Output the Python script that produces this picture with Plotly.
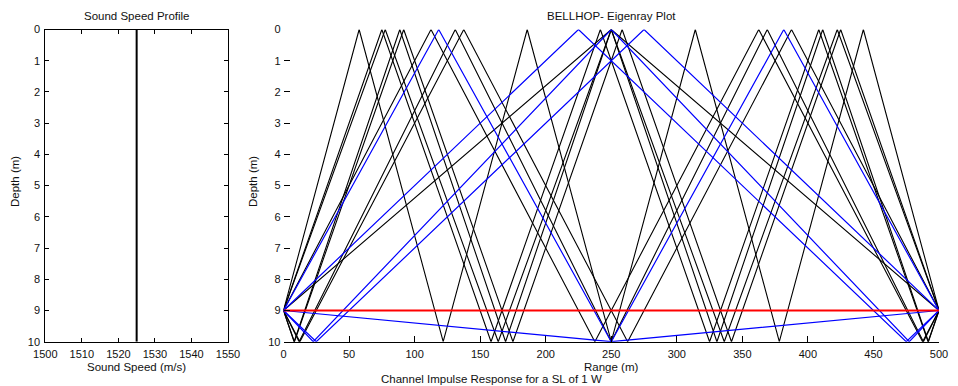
import plotly.graph_objects as go

W, H = 958, 386

# ---- Sound speed profile (isovelocity) ----
ssp_speed = [1525, 1525]
ssp_depth = [0, 10]

# ---- Eigenrays: vertex ranges (m) and depths (m) ----
# direct path
direct_r = [0, 500]
direct_z = [9, 9]

# blue rays
b1_r = [0, 250, 500]
b1_z = [9, 10, 9]
b2_r = [0, 25, 275, 500]
b2_z = [9, 10, 0, 9]
b3_r = [0, 225, 475, 500]
b3_z = [9, 0, 10, 9]
b4_r = [0, 22.7, 250, 477.3, 500]
b4_z = [9, 10, 0, 10, 9]
b5_r = [0, 118.4, 250, 381.6, 500]
b5_z = [9, 0, 10, 0, 9]

# black rays
k1_r = [0, 250, 500]
k1_z = [9, 0, 9]
k2_r = [0, 112.5, 237.5, 362.5, 487.5, 500]
k2_z = [9, 0, 10, 0, 10, 9]
k3_r = [0, 12.5, 137.5, 262.5, 387.5, 500]
k3_z = [9, 10, 0, 10, 0, 9]
k4_r = [0, 11.9, 131.0, 250, 369.0, 488.1, 500]
k4_z = [9, 10, 0, 10, 0, 10, 9]
k5_r = [0, 77.6, 163.8, 250, 336.2, 422.4, 500]
k5_z = [9, 0, 10, 0, 10, 0, 9]
k6_r = [0, 75, 158.3, 241.7, 325, 408.3, 491.7, 500]
k6_z = [9, 0, 10, 0, 10, 0, 10, 9]
k7_r = [0, 8.3, 91.7, 175, 258.3, 341.7, 425, 500]
k7_z = [9, 10, 0, 10, 0, 10, 0, 9]
k8_r = [0, 8.1, 88.7, 169.4, 250, 330.6, 411.3, 491.9, 500]
k8_z = [9, 10, 0, 10, 0, 10, 0, 10, 9]
k9_r = [0, 57.7, 121.8, 185.9, 250, 314.1, 378.2, 442.3, 500]
k9_z = [9, 0, 10, 0, 10, 0, 10, 0, 9]

blue_rays = [(b1_r, b1_z), (b2_r, b2_z), (b3_r, b3_z), (b4_r, b4_z), (b5_r, b5_z)]
black_rays = [(k1_r, k1_z), (k2_r, k2_z), (k3_r, k3_z), (k4_r, k4_z), (k5_r, k5_z),
              (k6_r, k6_z), (k7_r, k7_z), (k8_r, k8_z), (k9_r, k9_z)]

depth_ticks = list(range(0, 11))
speed_ticks = [1500, 1510, 1520, 1530, 1540, 1550]
range_ticks = [0, 50, 100, 150, 200, 250, 300, 350, 400, 450, 500]

FONT = "Liberation Sans, Arial, sans-serif"
TXT = "#111111"

def px(x):
    return x / W

def py(y):
    return 1 - y / H

fig = go.Figure()

fig.add_trace(go.Scatter(x=ssp_speed, y=ssp_depth, mode="lines",
                         line=dict(color="black", width=2),
                         xaxis="x", yaxis="y", showlegend=False, hoverinfo="skip"))

for r, z in black_rays:
    fig.add_trace(go.Scatter(x=r, y=z, mode="lines", line=dict(color="#000000", width=1.1),
                             xaxis="x2", yaxis="y2", showlegend=False, hoverinfo="skip"))
for r, z in blue_rays:
    fig.add_trace(go.Scatter(x=r, y=z, mode="lines", line=dict(color="#0000ff", width=1.2),
                             xaxis="x2", yaxis="y2", showlegend=False, hoverinfo="skip"))
fig.add_trace(go.Scatter(x=direct_r, y=direct_z, mode="lines", line=dict(color="#ff0000", width=1.8),
                         xaxis="x2", yaxis="y2", showlegend=False, hoverinfo="skip"))

y_dom = [py(341.7), py(29.5)]
tickfont = dict(family=FONT, size=11, color=TXT)
common = dict(showgrid=False, zeroline=False, tickcolor="black", tickfont=tickfont,
              ticklabelstandoff=2, automargin=False, fixedrange=True, ticks="inside")

fig.update_layout(
    width=W, height=H,
    margin=dict(l=0, r=0, t=0, b=0, pad=0, autoexpand=False),
    paper_bgcolor="white", plot_bgcolor="white",
    font=dict(family=FONT, size=11, color=TXT),
    xaxis=dict(domain=[px(45.3), px(228)], range=[1500, 1550], tickvals=speed_ticks,
               showline=True, linecolor="black", linewidth=1, mirror="ticks",
               ticklen=4, anchor="y", **common),
    yaxis=dict(domain=y_dom, range=[10, 0], tickvals=depth_ticks,
               showline=True, linecolor="black", linewidth=1, mirror="ticks",
               ticklen=4, anchor="x", **common),
    xaxis2=dict(domain=[px(283.5), px(939)], range=[0, 500], tickvals=range_ticks,
                showline=True, linecolor="black", linewidth=1, mirror=False,
                ticklen=6, anchor="y2", **common),
    yaxis2=dict(domain=y_dom, range=[10, 0], tickvals=depth_ticks,
                showline=False, mirror=False,
                ticklen=6, anchor="x2", **common),
)

def label(text, x, y, angle=0, size=11.5):
    fig.add_annotation(text=text, x=px(x), y=py(y), xref="paper", yref="paper",
                       showarrow=False, textangle=angle, xanchor="center", yanchor="middle",
                       font=dict(family=FONT, size=size, color=TXT))

label("Sound Speed Profile", 136.7, 16)
label("BELLHOP- Eigenray Plot", 611, 16)
label("Depth (m)", 15, 182, angle=-90)
label("Depth (m)", 253, 182, angle=-90)
label("Sound Speed (m/s)", 136.7, 367)
label("Range (m)", 611, 366.5)
label("Channel Impulse Response for a SL of 1 W", 491, 378.5)

fig.write_html(
    "out.html",
    config={"displayModeBar": False, "staticPlot": True},
    post_script="document.body.style.margin='0';document.body.style.padding='0';"
                "document.documentElement.style.overflow='hidden';",
)
